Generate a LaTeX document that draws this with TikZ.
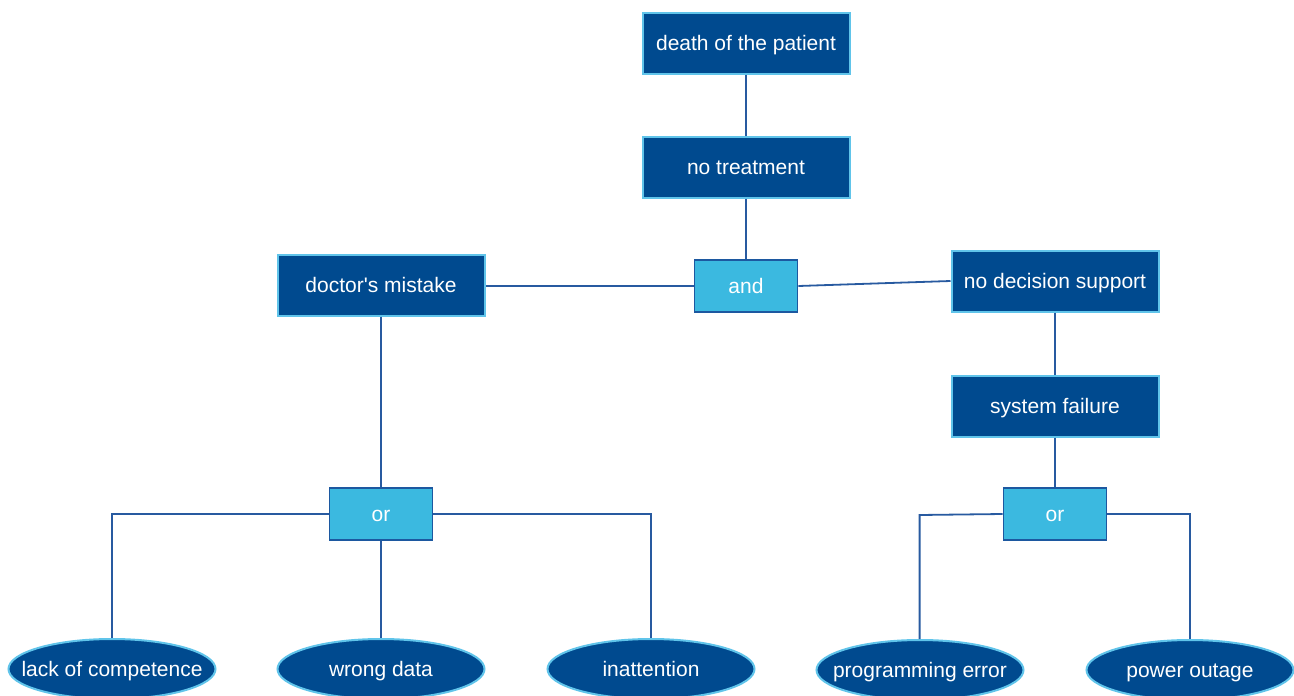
\documentclass[tikz,border=0pt]{standalone}
\usepackage{fontspec}
\setmainfont{Liberation Sans}[Ligatures=TeXOff]
\usetikzlibrary{shapes.geometric}
\definecolor{navy}{RGB}{0,74,143}
\definecolor{rim}{RGB}{96,196,234}
\definecolor{sky}{RGB}{59,185,224}
\definecolor{gateedge}{RGB}{28,88,160}
\definecolor{wirecol}{RGB}{40,90,160}
\newcommand{\lbl}[1]{\makebox[0pt]{#1}}
\tikzset{
  txt/.style={text=white, text height=18pt, text depth=3pt,
    font=\fontsize{21}{24}\selectfont},
  event/.style={txt, rectangle, fill=navy, draw=rim, line width=2pt,
    minimum width=207pt, minimum height=61pt, inner sep=0pt},
  gate/.style={txt, rectangle, fill=sky, draw=gateedge, line width=1.8pt,
    minimum width=103pt, minimum height=52pt, inner sep=0pt},
  leaf/.style={txt, ellipse, fill=navy, draw=rim, line width=2pt,
    minimum width=207pt, minimum height=60pt, inner sep=0pt},
  wire/.style={draw=wirecol, line width=1.8pt}
}
\begin{document}
\begin{tikzpicture}[x=1pt,y=-1pt]
\useasboundingbox (0,0) rectangle (1294,696);
% top and intermediate events
\node[event] (death) at (746,43) {death of the patient};
\node[event] (treat) at (746,167) {no treatment};
\node[gate] (and) at (746,286) {and};
\node[event] (doc) at (381,285) {doctor's mistake};
\node[event] (nds) at (1055,281) {no decision support};
\node[event] (sys) at (1055,406) {system failure};
\node[gate] (orl) at (381,514) {or};
\node[gate] (orr) at (1055,514) {or};
% basic events
\node[leaf] (lack) at (112,669) {\lbl{lack of competence}};
\node[leaf] (wrong) at (381,669) {\lbl{wrong data}};
\node[leaf] (inatt) at (651,669) {\lbl{inattention}};
\node[leaf] (prog) at (920,670) {\lbl{programming error}};
\node[leaf] (power) at (1190,670) {\lbl{power outage}};
% connectors
\draw[wire] (death) -- (treat);
\draw[wire] (treat) -- (and);
\draw[wire] (and.west) -- (doc.east |- and.west);
\draw[wire] (and.east) -- (nds.west);
\draw[wire] (doc) -- (orl);
\draw[wire] (orl.west) -| (lack.north);
\draw[wire] (orl.east) -| (inatt.north);
\draw[wire] (orl) -- (wrong);
\draw[wire] (nds) -- (sys);
\draw[wire] (sys) -- (orr);
\draw[wire] (orr.west) -- ++(-83,1) coordinate (pe) -- (prog.north -| pe);
\draw[wire] (orr.east) -| (power.north);
\end{tikzpicture}
\end{document}
